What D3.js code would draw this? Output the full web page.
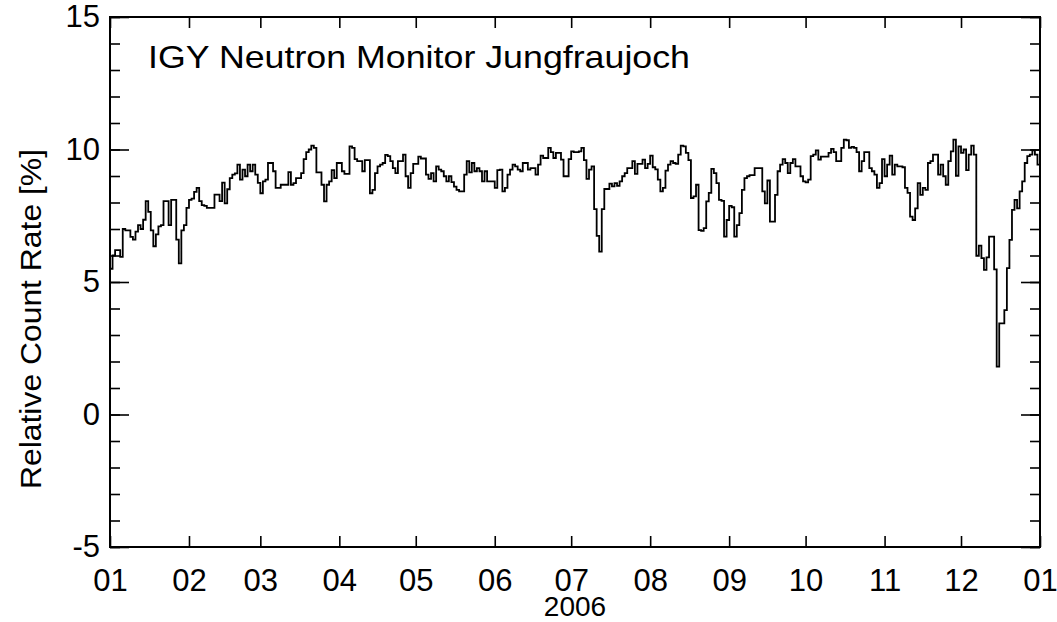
<!DOCTYPE html>
<html>
<head>
<meta charset="utf-8">
<script src="https://cdn.jsdelivr.net/npm/d3@7"></script>
<style>
  body { margin: 0; background: #fff; }
  text { font-family: "Liberation Sans", Arial, sans-serif; fill: #000; }
</style>
</head>
<body>
<svg id="chart" width="1057" height="622"></svg>
<script>
// daily relative count rate [%], one array per month of 2006
var jan = [5.5, 6.0, 6.2, 6.2, 5.95, 7.0, 6.95, 6.95, 6.7, 6.6, 6.9, 7.15, 7.0, 7.35, 8.05, 7.65, 6.95, 6.35, 6.8, 7.1, 7.15, 8.05, 8.05, 7.15, 8.1, 8.1, 6.6, 5.7, 6.95, 7.15, 7.8];
var feb = [8.1, 8.15, 8.4, 8.55, 8.05, 7.9, 7.87, 7.8, 7.8, 7.8, 8.3, 8.3, 8.05, 8.75, 7.97, 8.5, 8.92, 9.05, 9.1, 9.43, 8.86, 9.24, 8.99, 9.43, 9.18, 9.43, 9.05, 8.74];
var mar = [8.35, 8.8, 8.86, 9.49, 9.49, 9.18, 8.55, 8.55, 8.67, 8.67, 8.67, 9.15, 8.67, 8.73, 8.92, 8.92, 9.11, 9.64, 9.9, 10.0, 10.15, 10.06, 9.14, 9.14, 8.67, 8.04, 8.67, 8.8, 9.22, 8.92, 9.49];
var apr = [9.49, 9.18, 9.08, 9.08, 10.12, 10.06, 9.64, 9.56, 9.56, 9.18, 9.6, 9.6, 8.35, 8.48, 9.11, 9.36, 9.43, 9.49, 9.8, 9.75, 9.56, 9.3, 9.11, 9.56, 9.56, 9.81, 8.99, 8.55, 9.11, 9.46];
var may = [9.46, 9.73, 9.66, 9.66, 9.05, 8.89, 9.11, 8.8, 9.36, 9.24, 9.18, 8.99, 8.8, 8.99, 8.77, 8.6, 8.48, 8.42, 8.42, 9.05, 9.56, 9.14, 9.49, 9.18, 9.3, 9.18, 8.8, 9.18, 8.8, 8.8, 8.8];
var jun = [8.55, 9.22, 9.24, 8.42, 8.55, 9.05, 9.24, 9.43, 9.36, 9.24, 9.18, 9.49, 9.49, 9.24, 9.3, 9.3, 9.05, 9.43, 9.77, 9.68, 9.68, 10.06, 9.9, 9.68, 9.87, 9.87, 9.62, 8.99, 8.99, 9.64];
var jul = [9.93, 9.9, 9.9, 9.93, 10.06, 9.6, 8.89, 9.24, 9.36, 7.75, 6.74, 6.15, 7.75, 8.51, 8.51, 8.71, 8.61, 8.73, 8.63, 8.8, 8.99, 9.11, 9.3, 9.3, 9.56, 9.08, 9.46, 9.46, 9.62, 9.3, 9.46];
var aug = [9.77, 9.33, 9.25, 8.86, 8.42, 8.55, 9.2, 9.43, 9.56, 9.49, 9.46, 9.81, 10.15, 10.12, 9.87, 9.6, 8.17, 8.23, 8.67, 6.96, 6.93, 7.03, 8.04, 8.36, 9.27, 9.11, 8.73, 8.1, 8.06, 6.71, 7.34];
var sep = [7.87, 7.82, 6.71, 7.15, 7.6, 8.48, 8.92, 8.99, 9.03, 9.03, 9.3, 9.3, 9.3, 8.42, 7.97, 8.83, 7.28, 7.28, 8.29, 9.18, 9.43, 9.64, 9.49, 9.11, 9.49, 9.64, 9.36, 9.36, 8.99, 8.8];
var oct = [8.76, 8.86, 9.75, 9.81, 9.97, 9.62, 9.73, 9.73, 9.73, 9.87, 10.02, 9.9, 9.56, 9.56, 10.06, 10.37, 10.35, 10.06, 10.1, 10.06, 9.9, 9.18, 9.56, 9.9, 9.9, 9.3, 9.18, 9.05, 8.55, 8.73, 9.64];
var nov = [8.99, 9.43, 9.77, 9.05, 9.43, 9.36, 9.36, 9.33, 8.55, 8.36, 7.47, 7.34, 7.78, 8.73, 8.29, 8.55, 8.48, 9.49, 9.56, 9.81, 9.81, 9.05, 9.43, 8.99, 8.67, 9.56, 9.93, 10.37, 9.01, 10.12];
var dec = [9.87, 10.0, 9.22, 9.81, 10.15, 9.81, 5.99, 6.37, 5.9, 5.46, 5.93, 6.71, 6.71, 5.48, 1.81, 3.44, 3.44, 3.94, 5.52, 6.59, 7.72, 8.1, 7.78, 8.42, 8.8, 9.49, 9.75, 9.81, 9.97, 9.81, 9.43];

var yMajor = [-5, 0, 5, 10, 15];
var yMinor = d3.range(-5, 16, 1);

var svg = d3.select("#chart");
// plot box ("top" is taken by window.top, so use other names)
var xLeft = 110, xRight = 1040, yTop = 17, yBottom = 547;

var start = new Date(Date.UTC(2006, 0, 1));
var end = new Date(Date.UTC(2007, 0, 1));

var x = d3.scaleUtc().domain([start, end]).range([xLeft, xRight]);
var y = d3.scaleLinear().domain([-5, 15]).range([yBottom, yTop]);

// join the months into one daily series
var values = [].concat(jan, feb, mar, apr, may, jun, jul, aug, sep, oct, nov, dec);
var data = values.map(function (v, i) {
  return { date: d3.utcDay.offset(start, i), value: v };
});
// closing point so the last step reaches the right edge
data.push({ date: end, value: values[values.length - 1] });

var months = d3.utcMonth.range(start, d3.utcDay.offset(end, 1));

// bottom axis with labels
svg.append("g")
  .attr("transform", "translate(0," + yBottom + ")")
  .call(d3.axisBottom(x).tickValues(months).tickSize(-11).tickPadding(22)
    .tickFormat(d3.utcFormat("%m")))
  .attr("font-size", "31px");

// top axis, ticks only
svg.append("g")
  .attr("transform", "translate(0," + yTop + ")")
  .call(d3.axisTop(x).tickValues(months).tickSize(-11).tickFormat(""));

// left axis: minor then major (plain hyphen for negatives)
svg.append("g")
  .attr("transform", "translate(" + xLeft + ",0)")
  .call(d3.axisLeft(y).tickValues(yMinor).tickSize(-10).tickFormat(""));
svg.append("g")
  .attr("transform", "translate(" + xLeft + ",0)")
  .call(d3.axisLeft(y).tickValues(yMajor).tickSize(-19).tickPadding(10)
    .tickFormat(function (d) { return String(d); }))
  .attr("font-size", "31px");

// right axis ticks
svg.append("g")
  .attr("transform", "translate(" + xRight + ",0)")
  .call(d3.axisRight(y).tickValues(yMinor).tickSize(-10).tickFormat(""));
svg.append("g")
  .attr("transform", "translate(" + xRight + ",0)")
  .call(d3.axisRight(y).tickValues(yMajor).tickSize(-19).tickFormat(""));

svg.selectAll(".domain").remove();
svg.selectAll(".tick line").attr("stroke", "#000").attr("stroke-width", 1.6);
svg.selectAll(".tick text").attr("font-family", "'Liberation Sans', Arial, sans-serif").attr("fill", "#000");

// the step curve
var line = d3.line()
  .x(function (d) { return x(d.date); })
  .y(function (d) { return y(d.value); })
  .curve(d3.curveStepAfter);

svg.append("path")
  .datum(data)
  .attr("d", line)
  .attr("fill", "none")
  .attr("stroke", "#000")
  .attr("stroke-width", 1.8);

// frame
svg.append("rect")
  .attr("x", xLeft).attr("y", yTop)
  .attr("width", xRight - xLeft).attr("height", yBottom - yTop)
  .attr("fill", "none").attr("stroke", "#000").attr("stroke-width", 2);

// texts
svg.append("text")
  .attr("x", 148).attr("y", 68)
  .attr("font-size", "32px")
  .attr("textLength", 542).attr("lengthAdjust", "spacingAndGlyphs")
  .text("IGY Neutron Monitor Jungfraujoch");

svg.append("text")
  .attr("x", (xLeft + xRight) / 2).attr("y", 616)
  .attr("text-anchor", "middle")
  .attr("font-size", "28px")
  .text("2006");

svg.append("text")
  .attr("transform", "translate(41,319) rotate(-90)")
  .attr("text-anchor", "middle")
  .attr("font-size", "30px")
  .attr("textLength", 340).attr("lengthAdjust", "spacingAndGlyphs")
  .text("Relative Count Rate [%]");
</script>
</body>
</html>
